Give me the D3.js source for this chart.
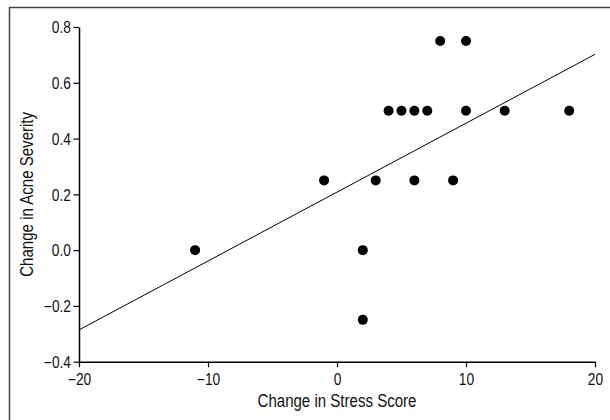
<!DOCTYPE html>
<html>
<head>
<meta charset="utf-8">
<script src="https://cdn.jsdelivr.net/npm/d3@7"></script>
<style>
  body { margin: 0; background: #fff; }
  svg text { font-family: "Liberation Sans", Arial, sans-serif; fill: #111; }
</style>
</head>
<body>
<svg id="chart"></svg>
<script>
// values
var stressChange = [-11, -1, 2, 2, 3, 4, 5, 6, 6, 7, 8, 9, 10, 10, 13, 18];
var acneChange   = [0, 0.25, 0, -0.25, 0.25, 0.5, 0.5, 0.5, 0.25, 0.5, 0.75, 0.25, 0.75, 0.5, 0.5, 0.5];
var fitX = [-20, 20];
var fitY = [-0.286, 0.702];
var xTicks = [-20, -10, 0, 10, 20];
var yTicks = [-0.4, -0.2, 0.0, 0.2, 0.4, 0.6, 0.8];

var W = 610, H = 420;
var margin = {top: 27, right: 15, bottom: 58, left: 79};

var svg = d3.select('#chart').attr('width', W).attr('height', H);

// no condensed face installed, so squeeze the glyphs
function narrow(sel, k) {
  sel.each(function() {
    var len = this.getComputedTextLength();
    d3.select(this).attr('textLength', len * k).attr('lengthAdjust', 'spacingAndGlyphs');
  });
}

// frame of the figure panel
svg.append('path')
  .attr('d', 'M9.5,' + H + 'V7.5H' + W)
  .attr('fill', 'none')
  .attr('stroke', '#444')
  .attr('stroke-width', 1.5);

var x = d3.scaleLinear().domain([-20, 20]).range([margin.left, W - margin.right]);
var y = d3.scaleLinear().domain([-0.4, 0.8]).range([H - margin.bottom - 0.3, margin.top]);

var minus = function(s) { return s.replace('-', '\u2212'); };

var gx = svg.append('g')
  .attr('transform', 'translate(0,' + y(-0.4) + ')')
  .call(d3.axisBottom(x).tickValues(xTicks).tickSize(5.5).tickSizeOuter(0)
    .tickFormat(function(d) { return minus(d3.format('d')(d)); }));

var gy = svg.append('g')
  .attr('transform', 'translate(' + x(-20) + ',0)')
  .call(d3.axisLeft(y).tickValues(yTicks).tickSize(5.5).tickSizeOuter(0)
    .tickFormat(function(d) { return minus(d3.format('.1f')(d)); }));

[gx, gy].forEach(function(g) {
  g.attr('font-family', null);
  g.select('.domain').attr('stroke', '#000').attr('stroke-width', 1.5);
  g.selectAll('.tick line').attr('stroke', '#000').attr('stroke-width', 1.2);
  g.selectAll('.tick text').attr('font-size', 16).attr('fill', '#111');
});
gx.selectAll('.tick text').attr('y', 0).attr('dy', 0).attr('transform', 'translate(0,23)');
gy.selectAll('.tick text').attr('x', -8).attr('dy', '0.36em');
narrow(gx.selectAll('.tick text'), 0.86);
narrow(gy.selectAll('.tick text'), 0.86);

// fitted line
svg.append('line')
  .attr('x1', x(fitX[0])).attr('y1', y(fitY[0]))
  .attr('x2', x(fitX[1])).attr('y2', y(fitY[1]))
  .attr('stroke', '#000').attr('stroke-width', 1);

svg.append('g').selectAll('circle')
  .data(stressChange)
  .enter().append('circle')
  .attr('cx', function(d) { return x(d); })
  .attr('cy', function(d, i) { return y(acneChange[i]); })
  .attr('r', 5)
  .attr('fill', '#000');

var xTitle = svg.append('text')
  .attr('x', x(0))
  .attr('y', 407)
  .attr('text-anchor', 'middle')
  .attr('font-size', 17.5)
  .text('Change in Stress Score');

var yTitle = svg.append('text')
  .attr('transform', 'translate(33,' + y(0.2) + ') rotate(-90)')
  .attr('text-anchor', 'middle')
  .attr('font-size', 17.5)
  .text('Change in Acne Severity');

narrow(xTitle, 0.86);
narrow(yTitle, 0.86);
</script>
</body>
</html>
